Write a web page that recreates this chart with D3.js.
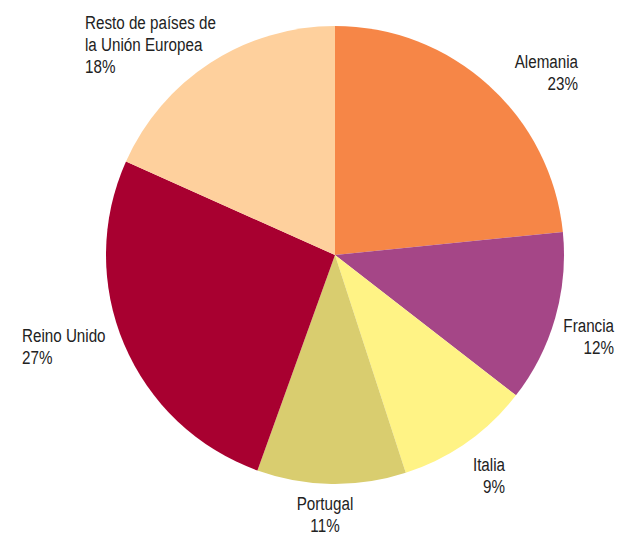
<!DOCTYPE html>
<html>
<head>
<meta charset="utf-8">
<script src="https://cdn.jsdelivr.net/npm/d3@7"></script>
<style>
  body { margin: 0; background: #fff; }
  text { font-family: "Liberation Sans", Arial, sans-serif; font-size: 19px; fill: #222; }
</style>
</head>
<body>
<div id="chart"></div>
<script>
const categories = ['Alemania', 'Francia', 'Italia', 'Portugal', 'Reino Unido', 'Resto de países de la Unión Europea']
const values = [23.4, 12.1, 9.5, 10.5, 26.2, 18.3]
const valueLabels = ['23%', '12%', '9%', '11%', '27%', '18%']
const colors = ['#F68647', '#A54687', '#FFF385', '#D9CD6F', '#A80030', '#FED09D']

const width = 617
const height = 535
const cx = 335
const cy = 255
const radius = 229

// label placement per slice: anchor point + alignment
const labelPos = [
  { x: 578, y: 68, anchor: 'end', lines: ['Alemania'] },
  { x: 614, y: 332, anchor: 'end', lines: ['Francia'] },
  { x: 505, y: 471, anchor: 'end', lines: ['Italia'] },
  { x: 325, y: 510, anchor: 'middle', lines: ['Portugal'] },
  { x: 22, y: 342, anchor: 'start', lines: ['Reino Unido'] },
  { x: 85, y: 29, anchor: 'start', lines: ['Resto de países de', 'la Unión Europea'] }
]

let svg = d3.select('#chart')
            .append('svg')
            .attr('width', width)
            .attr('height', height)

let pie = d3.pie()
            .sort(null)
            .value(d => d.value)

let arc = d3.arc()
            .innerRadius(0)
            .outerRadius(radius)

let data = categories.map((c, i) => ({ name: c, value: values[i], label: valueLabels[i], color: colors[i] }))

let g = svg.append('g')
           .attr('transform', `translate(${cx}, ${cy})`)

g.selectAll('path')
  .data(pie(data))
  .enter()
  .append('path')
  .attr('d', arc)
  .attr('fill', d => d.data.color)

// condensed look: squeeze text horizontally
let labels = svg.selectAll('g.lbl')
  .data(data)
  .enter()
  .append('g')
  .attr('class', 'lbl')
  .attr('transform', (d, i) => `translate(${labelPos[i].x}, ${labelPos[i].y}) scale(0.8, 1)`)
  .append('text')
  .attr('text-anchor', (d, i) => labelPos[i].anchor)

labels.each(function (d, i) {
  let t = d3.select(this)
  let lines = labelPos[i].lines.concat([d.label])
  lines.forEach((l, k) => {
    t.append('tspan')
      .attr('x', 0)
      .attr('y', k * 22)
      .text(l)
  })
})
</script>
</body>
</html>
